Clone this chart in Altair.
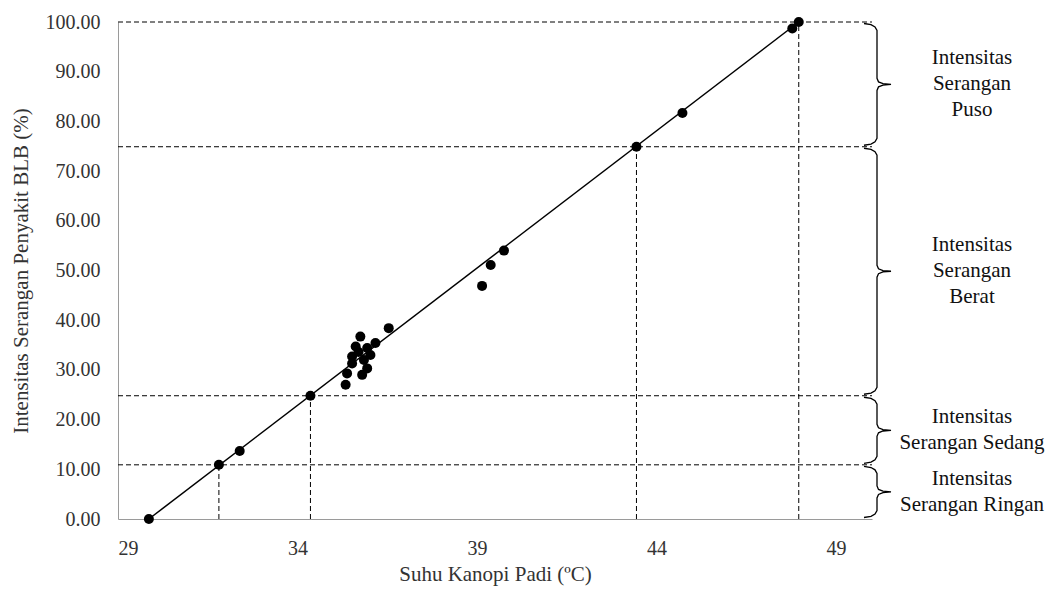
import altair as alt
import pandas as pd

# ---- data ----
suhu = [29.86, 31.81, 32.39, 34.36, 35.34, 35.38, 35.52, 35.52, 35.62, 35.70,
        35.75, 35.80, 35.85, 35.94, 35.94, 36.03, 36.17, 36.54, 39.14, 39.38,
        39.75, 43.44, 44.72, 47.78, 47.96]
intensitas = [0.0, 10.9, 13.7, 24.8, 27.0, 29.3, 32.7, 31.3, 34.7, 33.6,
              36.7, 29.0, 32.0, 34.4, 30.3, 33.0, 35.4, 38.4, 46.9, 51.1,
              54.0, 74.9, 81.7, 98.7, 100.0]

reg_x = [29.86, 47.96]
reg_y = [0.0, 100.0]

batas_x = [31.81, 34.36, 43.44, 47.96]
batas_y = [10.9, 24.8, 74.9, 100.0]

kelas = ["Puso", "Berat", "Sedang", "Ringan"]
kelas_lo = [74.9, 24.8, 10.9, 0.0]
kelas_hi = [100.0, 74.9, 24.8, 10.9]
kelas_label = ["Intensitas\nSerangan\nPuso", "Intensitas\nSerangan\nBerat",
               "Intensitas\nSerangan Sedang", "Intensitas\nSerangan Ringan"]

x_ticks = [29, 34, 39, 44, 49]
y_ticks = [0, 10, 20, 30, 40, 50, 60, 70, 80, 90, 100]

# ---- layout ----
W, H = 754, 497
XMIN, XMAX = 29, 50
YMIN, YMAX = 0, 100
FONT = "Liberation Serif"
LH = 26
ux = (XMAX - XMIN) / W   # data units per pixel (x)
uy = (YMAX - YMIN) / H   # data units per pixel (y)

xs = alt.Scale(domain=[XMIN, XMAX], nice=False, zero=False)
ys = alt.Scale(domain=[YMIN, YMAX], nice=False, zero=False)

pts = pd.DataFrame({"x": suhu, "y": intensitas})
reg = pd.DataFrame({"x": reg_x, "y": reg_y})
hl = pd.DataFrame({"y": batas_y, "x0": [XMIN] * 4, "x1": [XMAX] * 4})
vl = pd.DataFrame({"x": batas_x, "y0": [0] * 4, "y1": batas_y})

# brace paths (shape in pixel offsets, converted to data units)
brace_rows = []
bx = W + 5
for k, (name, lo, hi) in enumerate(zip(kelas, kelas_lo, kelas_hi)):
    inset = 1.5
    hpx = (hi - lo) / uy - 2 * inset
    m = hpx / 2
    half = [(-13, 0), (-6, 1.2), (-2, 3.5), (0, 7), (0, m - 6), (1.5, m - 2.5), (6, m - 0.7), (14, m)]
    path = half + [(dx, hpx - dy) for dx, dy in reversed(half[:-1])]
    for i, (dx, dy) in enumerate(path):
        brace_rows.append({
            "k": name, "i": i,
            "x": XMAX + (bx - W + dx) * ux,
            "y": hi - (inset + dy) * uy,
        })
braces = pd.DataFrame(brace_rows)

# first line anchored so that the text block is centred on the brace tip
lab = pd.DataFrame({
    "t": kelas_label,
    "y": [(a + b) / 2 + (t.count("\n") * LH / 2) * uy
          for a, b, t in zip(kelas_lo, kelas_hi, kelas_label)],
})

dash = [5, 3]

hlines = alt.Chart(hl).mark_rule(color="black", strokeWidth=1, strokeDash=dash).encode(
    x=alt.X("x0:Q", scale=xs), x2="x1:Q", y=alt.Y("y:Q", scale=ys))
vlines = alt.Chart(vl).mark_rule(color="black", strokeWidth=1, strokeDash=dash).encode(
    x=alt.X("x:Q", scale=xs), y=alt.Y("y0:Q", scale=ys), y2="y1:Q")
line = alt.Chart(reg).mark_line(color="black", strokeWidth=1.5).encode(
    x=alt.X("x:Q", scale=xs,
            axis=alt.Axis(values=x_ticks, format="d", title="Suhu Kanopi Padi (ºC)")),
    y=alt.Y("y:Q", scale=ys,
            axis=alt.Axis(values=y_ticks, format=".2f",
                          title="Intensitas Serangan Penyakit BLB  (%)")))
dots = alt.Chart(pts).mark_circle(color="black", size=100, opacity=1).encode(
    x=alt.X("x:Q", scale=xs), y=alt.Y("y:Q", scale=ys))
brace = alt.Chart(braces).mark_line(color="black", strokeWidth=1.3).encode(
    x=alt.X("x:Q", scale=xs), y=alt.Y("y:Q", scale=ys), detail="k:N", order="i:Q")
texts = alt.Chart(lab).mark_text(font=FONT, fontSize=21, lineHeight=LH, align="center",
                                 baseline="middle", color="#111", lineBreak="\n").encode(
    x=alt.value(W + 100), y=alt.Y("y:Q", scale=ys), text="t:N")

chart = alt.layer(line, hlines, vlines, dots, brace, texts).properties(
    width=W, height=H,
    autosize=alt.AutoSizeParams(type="none"),
    padding={"left": 110, "top": 14, "right": 176, "bottom": 68},
).configure_view(stroke=None).configure_axis(
    grid=False, ticks=False, domainColor="#9a9a9a", domainWidth=1,
    labelFont=FONT, titleFont=FONT, labelFontSize=20, titleFontSize=21,
    titleFontWeight="normal", labelColor="#333333", titleColor="#333333",
).configure_axisX(labelPadding=19, titlePadding=5).configure_axisY(
    labelPadding=18, titlePadding=14)

chart.save("out.html", embed_options={"renderer": "svg", "actions": False})
